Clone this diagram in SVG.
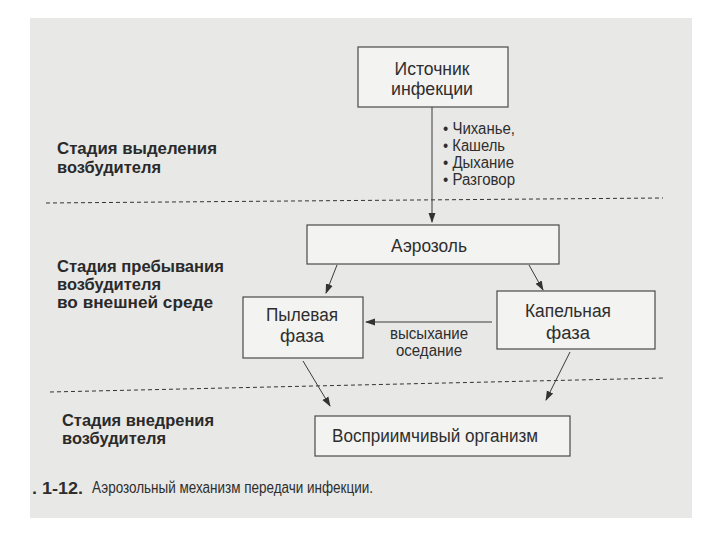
<svg xmlns="http://www.w3.org/2000/svg" width="720" height="540" viewBox="0 0 720 540">
<style>
.bg{fill:#e8e8e6}
.box{fill:#f3f3f1;stroke:#4a4a4a;stroke-width:1.2}
.t{font-family:"Liberation Sans","Noto Sans",Arial,sans-serif;font-size:18px;fill:#2e2e2e}
.s{font-family:"Liberation Sans","Noto Sans",Arial,sans-serif;font-size:16px;fill:#2e2e2e}
.b{font-family:"Liberation Sans","Noto Sans",Arial,sans-serif;font-size:17px;font-weight:bold;fill:#2a2a2a}
.c{font-family:"Liberation Sans","Noto Sans",Arial,sans-serif;font-size:16px;fill:#2e2e2e}
.ln{stroke:#3a3a3a;stroke-width:1;fill:none}
.dash{stroke:#333;stroke-width:1;stroke-dasharray:4 3;fill:none}
</style>
<defs>
<marker id="ah" markerUnits="userSpaceOnUse" markerWidth="10" markerHeight="10" viewBox="0 0 10 10" refX="9" refY="5" orient="auto">
<path d="M0,1.5 L10,5 L0,8.5 Z" fill="#333"/>
</marker>
</defs>
<rect x="0" y="0" width="720" height="540" fill="#ffffff"/>
<rect class="bg" x="30" y="18" width="662" height="500"/>

<g id="stages">
<text class="b" x="57" y="154" textLength="160" lengthAdjust="spacingAndGlyphs">Стадия выделения</text>
<text class="b" x="57" y="173" textLength="104" lengthAdjust="spacingAndGlyphs">возбудителя</text>
<text class="b" x="57" y="272" textLength="167" lengthAdjust="spacingAndGlyphs">Стадия пребывания</text>
<text class="b" x="57" y="290" textLength="104" lengthAdjust="spacingAndGlyphs">возбудителя</text>
<text class="b" x="57" y="308" textLength="156" lengthAdjust="spacingAndGlyphs">во внешней среде</text>
<text class="b" x="62" y="426" textLength="152" lengthAdjust="spacingAndGlyphs">Стадия внедрения</text>
<text class="b" x="62" y="444" textLength="104" lengthAdjust="spacingAndGlyphs">возбудителя</text>
</g>

<g id="dividers">
<line class="dash" x1="46" y1="203" x2="663" y2="198"/>
<line class="dash" x1="50" y1="392" x2="665" y2="378"/>
</g>

<g id="connectors">
<line class="ln" x1="432" y1="107" x2="432" y2="222" marker-end="url(#ah)"/>
<line class="ln" x1="337" y1="265" x2="326" y2="293" marker-end="url(#ah)"/>
<line class="ln" x1="529" y1="265" x2="543" y2="290" marker-end="url(#ah)"/>
<line class="ln" x1="492" y1="322" x2="366" y2="322" marker-end="url(#ah)"/>
<line class="ln" x1="303" y1="361" x2="330" y2="406" marker-end="url(#ah)"/>
<line class="ln" x1="570" y1="352" x2="546" y2="400" marker-end="url(#ah)"/>
<text class="s" x="443" y="134" textLength="72" lengthAdjust="spacingAndGlyphs">• Чиханье,</text>
<text class="s" x="443" y="151" textLength="62" lengthAdjust="spacingAndGlyphs">• Кашель</text>
<text class="s" x="443" y="168" textLength="71" lengthAdjust="spacingAndGlyphs">• Дыхание</text>
<text class="s" x="443" y="185" textLength="72" lengthAdjust="spacingAndGlyphs">• Разговор</text>
<text class="s" x="429" y="339" text-anchor="middle" textLength="78" lengthAdjust="spacingAndGlyphs">высыхание</text>
<text class="s" x="429" y="356" text-anchor="middle" textLength="66" lengthAdjust="spacingAndGlyphs">оседание</text>
</g>

<g id="source">
<rect class="box" x="358" y="47" width="150" height="60"/>
<text class="t" x="432" y="75" text-anchor="middle" textLength="75" lengthAdjust="spacingAndGlyphs">Источник</text>
<text class="t" x="432" y="95" text-anchor="middle" textLength="82" lengthAdjust="spacingAndGlyphs">инфекции</text>
</g>

<g id="aerosol">
<rect class="box" x="307" y="225" width="252" height="39"/>
<text class="t" x="429" y="252" text-anchor="middle" textLength="76" lengthAdjust="spacingAndGlyphs">Аэрозоль</text>
</g>

<g id="dust">
<rect class="box" x="243" y="297" width="120" height="61"/>
<text class="t" x="302" y="321" text-anchor="middle" textLength="72" lengthAdjust="spacingAndGlyphs">Пылевая</text>
<text class="t" x="302" y="342" text-anchor="middle" textLength="44" lengthAdjust="spacingAndGlyphs">фаза</text>
</g>

<g id="droplet">
<rect class="box" x="497" y="291" width="158" height="58"/>
<text class="t" x="568" y="317" text-anchor="middle" textLength="86" lengthAdjust="spacingAndGlyphs">Капельная</text>
<text class="t" x="568" y="339" text-anchor="middle" textLength="44" lengthAdjust="spacingAndGlyphs">фаза</text>
</g>

<g id="host">
<rect class="box" x="315" y="416" width="255" height="40"/>
<text class="t" x="435" y="442" text-anchor="middle" textLength="206" lengthAdjust="spacingAndGlyphs">Восприимчивый организм</text>
</g>

<g id="caption">
<text class="c" x="32" y="494" font-weight="bold" font-size="18" textLength="51" lengthAdjust="spacingAndGlyphs">. 1-12.</text>
<text class="c" x="92" y="493" textLength="281" lengthAdjust="spacingAndGlyphs">Аэрозольный механизм передачи инфекции.</text>
</g>
</svg>
